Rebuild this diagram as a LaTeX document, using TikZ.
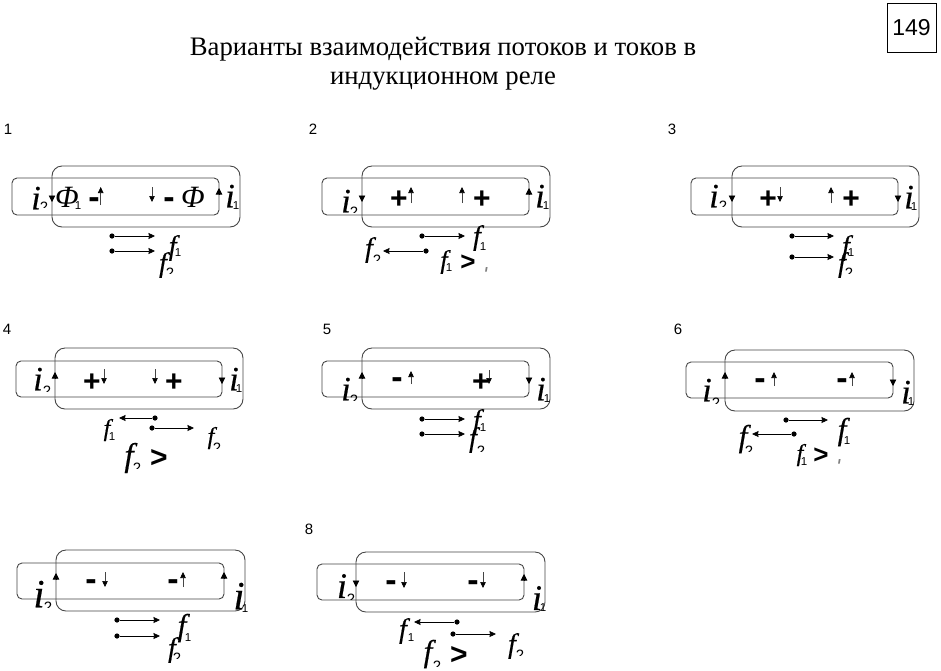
\documentclass[tikz,border=0pt]{standalone}
\usepackage{fontspec}
\setmainfont{Liberation Serif}
\setsansfont{Liberation Sans}
\newfontfamily\symf[FakeBold=0.5,ItalicFeatures={FakeBold=0.5}]{Liberation Serif}
\usetikzlibrary{arrows.meta}
\newcounter{lb}
\definecolor{lnc}{HTML}{454545}
\tikzset{
 x=1pt,y=-1pt,
 biglp/.style={draw=lnc,line width=0.9pt,rounded corners=10pt},
 smalllp/.style={draw=lnc,line width=0.9pt,rounded corners=5pt},
 curtip/.style={-{Stealth[length=6.5pt,width=6.5pt,inset=0pt]},black,line width=0.6pt},
 fluxarr/.style={-{Stealth[length=6pt,width=5.5pt,inset=0pt,color=black]},draw=lnc,line width=0.6pt},
 farr/.style={-{Stealth[length=6.5pt,width=6pt,inset=0.5pt]},black,line width=0.7pt},
 fdot/.style={circle,fill=black,inner sep=0pt,minimum size=5.2pt},
 lbl/.style={inner sep=0pt,outer sep=0pt},
}
\newcommand{\Lps}[8]{% small x1 y1 x2 y2, big x1 y1 x2 y2
 \draw[smalllp] (#1,#2) rectangle (#3,#4);
 \draw[biglp] (#5,#6) rectangle (#7,#8);}
\newcommand{\Cu}[2]{\draw[curtip] (#1,#2+6) -- (#1,#2);}
\newcommand{\Cd}[2]{\draw[curtip] (#1,#2-6) -- (#1,#2);}
\newcommand{\Flx}[3]{\draw[fluxarr] (#1,#2) -- (#1,#3);}
\newcommand{\Fa}[3]{\stepcounter{lb}\node[fdot] (d\arabic{lb}) at (#1,#2) {};
 \coordinate (e\arabic{lb}) at (#3,#2);
 \draw[farr] (d\arabic{lb}) -- (e\arabic{lb});}
\newcommand{\Tx}[4]{\stepcounter{lb}\node[lbl] (t\arabic{lb}) at (#1,#2) {\fontsize{#3}{#3}\selectfont #4};}
\newcommand{\Ii}[3][34]{\Tx{#2}{#3}{#1}{\symf\itshape i}}
\newcommand{\Ff}[3][28]{\Tx{#2}{#3}{#1}{\symf\itshape f}}
\newcommand{\Ph}[2]{\Tx{#1}{#2}{31}{\itshape Φ}}
\newcommand{\Sa}[2]{\Tx{#1}{#2}{11.5}{\sffamily 1}}
\newcommand{\Sb}[2]{\begin{scope}\clip (#1-6,#2-5) rectangle (#1+6,#2+2.2);
 \stepcounter{lb}\node[lbl,anchor=base] (t\arabic{lb}) at (#1,#2+7) {\fontsize{15}{15}\selectfont\sffamily 2};\end{scope}}
\newcommand{\Pl}[2]{\Tx{#1}{#2}{30}{\sffamily\bfseries +}}
\newcommand{\Mi}[2]{\Tx{#1}{#2+6}{34}{\sffamily\bfseries -}}
\newcommand{\Gt}[3][26]{\Tx{#2}{#3}{#1}{\sffamily\bfseries >}}
\newcommand{\Nm}[3]{\Tx{#1}{#2}{15}{\sffamily #3}}
\newcommand{\Sp}[2]{\begin{scope}\clip (#1-3,#2-3) rectangle (#1+3,#2+3);
 \stepcounter{lb}\node[lbl,text=gray] (t\arabic{lb}) at (#1+3,#2-8) {\fontsize{22}{22}\selectfont\itshape f};\end{scope}}
\begin{document}
\begin{tikzpicture}
\useasboundingbox (0,0) rectangle (941,670);
% title and page number
\Tx{443}{49}{26.7}{Варианты взаимодействия потоков и токов в}
\Tx{443}{81}{26.7}{индукционном реле}
\node[draw=black,line width=1pt,minimum width=49pt,minimum height=49pt,inner sep=0pt] (pg) at (911.5,27.5) {\fontsize{23}{23}\selectfont\sffamily 149};
% numbers
\Nm{8}{129}{1}\Nm{313}{129}{2}\Nm{672}{129}{3}
\Nm{7}{329}{4}\Nm{327}{329}{5}\Nm{678}{329}{6}\Nm{309}{529}{8}
% panel 1
\Lps{12}{178}{219}{215}{52}{166}{240}{227}
\Cd{52}{202}\Cu{219}{188}
\Ii{36}{198}\Sb{44}{205}\Ph{67}{197}\Sa{78}{206}\Mi{94}{197}
\Flx{100.7}{205}{187}\Flx{152}{187}{202}
\Mi{169}{197}\Ph{193}{197}\Ii{230}{196}\Sa{236}{206}
\Fa{112}{236}{155}\Fa{112}{251}{155}
\Ff{172.7}{248}\Sa{178}{253}\Ff{163}{265}\Sb{170}{271}
% panel 2
\Lps{322}{178}{529}{215}{362}{166}{550}{227}
\Cd{362}{202}\Cu{529}{188}
\Ii{346}{201}\Sb{354}{210}\Pl{399}{200}\Pl{482}{200}
\Flx{411}{203}{187}\Flx{462}{203}{187}
\Ii{540}{196}\Sa{546}{206}
\Fa{422}{236}{465}\Fa{426}{251}{383}
\Ff{477}{238}\Sa{483}{247}\Ff{369}{250}\Sb{377}{258}
\Ff[26]{444}{262}\Sa{449}{268}\Gt{468}{263}\Sp{485}{270}
% panel 3
\Lps{691}{178}{898}{215}{732}{166}{919}{227}
\Cd{732}{202}\Cd{898}{202}
\Ii{714}{196}\Sb{723}{204}\Pl{768}{200}\Pl{851}{200}
\Flx{780}{187}{202}\Flx{831}{203}{187}
\Ii{909}{197}\Sa{914}{207}
\Fa{792}{236}{834}\Fa{792}{257}{834}
\Ff{846}{248}\Sa{851}{253}\Ff{842}{265}\Sb{849}{271}
% panel 4
\Lps{16}{361}{222}{397}{55}{348}{243}{409}
\Cu{55}{372}\Cd{222}{384}
\Ii{38}{379}\Sb{47}{389}\Pl{92}{383}\Pl{174}{383}
\Flx{104}{369}{384}\Flx{155}{369}{384}
\Ii{234}{379}\Sa{239}{389}
\Fa{155}{418}{119}\Fa{152}{428}{194}
\Ff[24]{107}{430}\Sa{112}{437}\Ff[24]{211}{438}\Sb{217}{446}
\Ff[33]{129}{458}\Sb{137}{466}\Gt[30]{159}{458}
% panel 5
\Lps{322}{361}{529}{397}{362}{348}{550}{409}
\Cu{362}{372}\Cd{529}{384}
\Ii{346}{389}\Sb{354}{398}\Mi{397}{377}\Pl{481}{383}
\Flx{411}{384}{371}\Flx{489}{370}{384}
\Ii{541}{389}\Sa{547}{399}
\Fa{422}{419}{465}\Fa{422}{434}{465}
\Ff{477}{422}\Sa{483}{428}\Ff{473}{440}\Sb{481}{449}
% panel 6
\Lps{686}{362}{893}{398}{725}{350}{914}{411}
\Cu{725}{372}\Cd{893}{386}
\Ii{707}{390}\Sb{716}{401}\Mi{760}{378}\Mi{842}{378}
\Flx{774}{386}{372}\Flx{852}{386}{372}
\Ii{906}{392}\Sa{911}{402}
\Fa{786}{420}{828}\Fa{794}{434}{752}
\Ff[31]{842}{432}\Sa{847}{441}\Ff[31]{743}{439}\Sb{749}{449}
\Ff[24]{800}{455}\Sa{804}{462}\Gt{821}{456}\Sp{838}{462}
% panel 7
\Lps{17}{563}{224}{599}{56}{550}{245}{611}
\Cu{56}{573}\Cu{224}{572}
\Ii[40]{39}{594}\Sb{48}{605}\Mi{91}{579}\Mi{173}{579}
\Flx{105}{572}{587}\Flx{183}{587}{572}
\Ii[40]{239}{596}\Sa{245}{609}
\Fa{117}{620}{160}\Fa{117}{636}{160}
\Ff[31]{182}{628}\Sa{188}{638}\Ff{172}{650}\Sb{177}{656}
% panel 8
\Lps{317}{564}{524}{600}{356}{552}{545}{612}
\Cd{356}{587}\Cu{524}{574}
\Ii[36]{342}{586}\Sb{351}{597}\Mi{391}{580}\Mi{473}{580}
\Flx{404}{572}{588}\Flx{483}{572}{588}
\Ii[36]{537}{598}\Sa{543}{608}
\Fa{457}{622}{414}\Fa{453}{634}{496}
\Ff{403}{631}\Sa{411}{638}\Ff{512}{646}\Sb{520}{653}
\Ff[31]{428}{654}\Sb{437}{664}\Gt[30]{459}{655}
\end{tikzpicture}
\end{document}
